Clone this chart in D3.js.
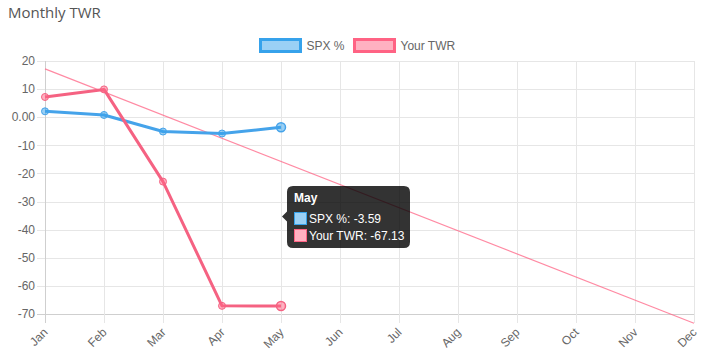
<!DOCTYPE html>
<html>
<head>
<meta charset="utf-8">
<script src="https://cdn.jsdelivr.net/npm/d3@7"></script>
<style>
  html, body { margin: 0; padding: 0; background: #fff; }
  svg text { font-family: "Liberation Sans", Arial, sans-serif; }
</style>
</head>
<body>
<div id="chart"></div>
<script>
// Data
const months = ['Jan', 'Feb', 'Mar', 'Apr', 'May', 'Jun', 'Jul', 'Aug', 'Sep', 'Oct', 'Nov', 'Dec'];
const spxValues = [2.1, 0.8, -5.1, -5.8, -3.59];
const twrValues = [7.2, 9.9, -22.9, -67.1, -67.13];
const trendMonths = ['Jan', 'Dec'];
const trendValues = [17.2, -73.3];
const yTicks = [20, 10, 0, -10, -20, -30, -40, -50, -60, -70];
const hoverIndex = 4;

const width = 705;
const height = 351;
const margins = { top: 61, right: 11, bottom: 37, left: 45 };

const blue = 'rgb(69,163,234)';
const blueFill = 'rgba(54,162,235,0.5)';
const pink = 'rgb(245,98,130)';
const pinkFill = 'rgba(255,99,132,0.5)';

const svg = d3.select('#chart')
    .append('svg')
    .attr('width', width)
    .attr('height', height);

// Title
svg.append('text')
    .attr('x', 8)
    .attr('y', 18)
    .style('font-family', '"Open Sans", "Noto Sans", sans-serif')
    .style('font-size', '15px')
    .attr('fill', '#555')
    .text('Monthly TWR');

// Scales
const x = d3.scalePoint()
    .domain(months)
    .range([margins.left, width - margins.right]);

const y = d3.scaleLinear()
    .domain([-70, 20])
    .range([height - margins.bottom, margins.top]);

// Grid
const grid = svg.append('g');
grid.selectAll('line.h')
    .data(yTicks)
    .join('line')
    .attr('class', 'h')
    .attr('x1', margins.left - 8)
    .attr('x2', width - margins.right)
    .attr('y1', d => Math.round(y(d)) + 0.5)
    .attr('y2', d => Math.round(y(d)) + 0.5)
    .attr('stroke', d => d === -70 ? '#cfcfcf' : '#e6e6e6');

grid.selectAll('line.v')
    .data(months)
    .join('line')
    .attr('class', 'v')
    .attr('x1', d => Math.round(x(d)) + 0.5)
    .attr('x2', d => Math.round(x(d)) + 0.5)
    .attr('y1', margins.top)
    .attr('y2', height - margins.bottom + 9)
    .attr('stroke', d => d === 'Jan' ? '#cfcfcf' : '#e6e6e6');

// Y axis labels
svg.append('g')
    .selectAll('text')
    .data(yTicks)
    .join('text')
    .attr('x', 35)
    .attr('y', d => y(d))
    .attr('dy', '0.35em')
    .attr('text-anchor', 'end')
    .style('font-size', '12px')
    .attr('fill', '#666')
    .text(d => d === 0 ? '0.00' : d);

// X axis labels (rotated)
svg.append('g')
    .selectAll('text')
    .data(months)
    .join('text')
    .attr('transform', d => `translate(${x(d) + 3.5},${height - margins.bottom + 19}) rotate(-45)`)
    .attr('text-anchor', 'end')
    .style('font-size', '12px')
    .attr('fill', '#666')
    .text(d => d);

// Trend line
const trendLine = d3.line()
    .x((d, i) => x(trendMonths[i]))
    .y(d => y(d));

svg.append('path')
    .datum(trendValues)
    .attr('d', trendLine)
    .attr('fill', 'none')
    .attr('stroke', 'rgb(255,99,132)')
    .attr('stroke-opacity', 0.75)
    .attr('stroke-width', 1.2);

// Series lines
const seriesLine = d3.line()
    .x((d, i) => x(months[i]))
    .y(d => y(d));

function drawSeries(values, color, fill) {
    const g = svg.append('g');
    g.append('path')
        .datum(values)
        .attr('d', seriesLine)
        .attr('fill', 'none')
        .attr('stroke', color)
        .attr('stroke-width', 3)
        .attr('stroke-linejoin', 'round');
    g.selectAll('circle')
        .data(values)
        .join('circle')
        .attr('cx', (d, i) => x(months[i]))
        .attr('cy', d => y(d))
        .attr('r', (d, i) => i === hoverIndex ? 4.5 : 3.5)
        .attr('fill', fill)
        .attr('stroke', color)
        .attr('stroke-width', (d, i) => i === hoverIndex ? 1.5 : 1);
}

drawSeries(spxValues, blue, blueFill);
drawSeries(twrValues, pink, pinkFill);

// Legend
const legendItems = [
    { label: 'SPX %', color: 'rgb(54,162,235)', fill: 'rgba(54,162,235,0.5)', x: 260.5 },
    { label: 'Your TWR', color: 'rgb(255,99,132)', fill: 'rgba(255,99,132,0.5)', x: 354.5 }
];
const legend = svg.append('g');
legendItems.forEach(item => {
    legend.append('rect')
        .attr('x', item.x)
        .attr('y', 39.5)
        .attr('width', 40)
        .attr('height', 12)
        .attr('fill', item.fill)
        .attr('stroke', item.color)
        .attr('stroke-width', 3);
    legend.append('text')
        .attr('x', item.x + 46)
        .attr('y', 45.5)
        .attr('dy', '0.35em')
        .style('font-size', '12px')
        .attr('fill', '#666')
        .text(item.label);
});

// Tooltip for the hovered month
const tipX = 287;
const tipY = 186;
const tipW = 123;
const tipH = 62;
const caretY = (y(spxValues[hoverIndex]) + y(twrValues[hoverIndex])) / 2;
const tip = svg.append('g');

tip.append('path')
    .attr('d', `M${tipX + 6},${tipY} H${tipX + tipW - 6} Q${tipX + tipW},${tipY} ${tipX + tipW},${tipY + 6}
        V${tipY + tipH - 6} Q${tipX + tipW},${tipY + tipH} ${tipX + tipW - 6},${tipY + tipH}
        H${tipX + 6} Q${tipX},${tipY + tipH} ${tipX},${tipY + tipH - 6}
        V${caretY + 5} L${tipX - 5},${caretY} L${tipX},${caretY - 5}
        V${tipY + 6} Q${tipX},${tipY} ${tipX + 6},${tipY} Z`)
    .attr('fill', 'rgba(0,0,0,0.8)');

tip.append('text')
    .attr('x', tipX + 7)
    .attr('y', tipY + 16)
    .style('font-size', '12px')
    .style('font-weight', 'bold')
    .attr('fill', '#fff')
    .text(months[hoverIndex]);

const tipRows = [
    { label: 'SPX %: ' + spxValues[hoverIndex].toFixed(2), color: 'rgb(54,162,235)', fill: 'rgb(155,208,245)' },
    { label: 'Your TWR: ' + twrValues[hoverIndex].toFixed(2), color: 'rgb(255,99,132)', fill: 'rgb(255,177,193)' }
];
tipRows.forEach((row, i) => {
    const rowY = tipY + 26 + i * 17;
    tip.append('rect')
        .attr('x', tipX + 7.5)
        .attr('y', rowY + 0.5)
        .attr('width', 12)
        .attr('height', 12)
        .attr('fill', row.fill)
        .attr('stroke', row.color)
        .attr('stroke-width', 1);
    tip.append('text')
        .attr('x', tipX + 22)
        .attr('y', rowY + 11)
        .style('font-size', '12px')
        .attr('fill', '#fff')
        .text(row.label);
});
</script>
</body>
</html>
